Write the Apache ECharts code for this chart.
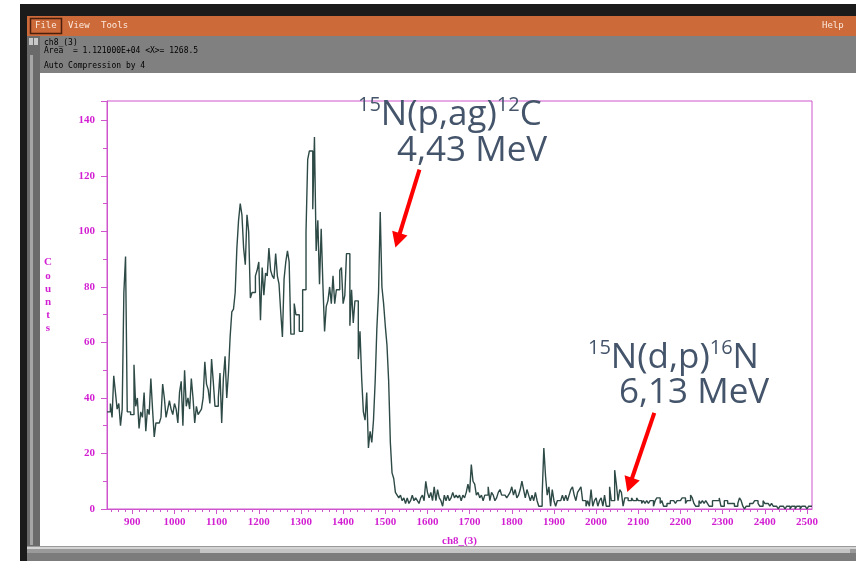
<!DOCTYPE html>
<html><head><meta charset="utf-8">
<script src="https://cdn.jsdelivr.net/npm/echarts@6/dist/echarts.min.js"></script>
<style>html,body{margin:0;padding:0;background:#fff;overflow:hidden}#c{width:856px;height:561px}</style>
</head><body><div id="c"></div>
<script>
// ---- data (compressed channels, 4 channels per bin, starting at channel 840) ----
const binStart = 840;
const binWidth = 4;
const countsA = [35,35,38,33,48,42,36,38,30,36,78,91,35,35,34,34,52,37,40,29,
  35,33,42,28,36,34,47,36,26,31,31,31,33,45,40,33,36,39,36,34,
  38,36,31,42,46,30,50,37,40,36,47,40,31,37,34,35,36,40,53,45,
  43,38,54,46,37,37,40,49,31,47,55,40,49,62,71,72,78,94,104,110,
  106,94,88,106,100,76,78,78,84,86,89,68,87,77,85,84,94,86,84,83,
  92,84,81,71,62,83,89,93,89,63,63,74,70,70,64,64,79,79,100,126,
  129,129,108,134,93,104,81,101,81,64,73,75,80,74,84,74,79,79,86,87,74,77];
const countsB = [92,92,66,79,67,75,75,54,64,47,35,32,42,22,28,24,32,46,65,78,
  107,80,74,66,59,46,24,13,11,6,
  5,4,5,3,4,2,4,2,3,5,3,4,3,2,4,5,3,10,6,4,
  6,3,8,3,7,4,3,1,5,3,5,3,4,6,4,5,4,5,3,5,
  4,6,9,6,16,10,9,5,6,4,5,3,5,5,8,3,6,5,3,4,
  6,7,5,5,5,4,5,6,8,5,7,4,5,7,10,7,4,7,5,3,
  5,3,6,3,1,1,5,22,12,5,8,1,7,3,1,3,3,3,5,3,
  5,3,5,7,8,5,3,6,7,8,3];
const countsC = [3,1,3,1,7,1,3,4,1,3,4,1,5,1,1,8,3,3,14,9,
  3,7,6,1,4,4,3,3,4,3,3,4,3,3,2,3,2,3,2,3,
  3,1,3,4,4,2,3,1,1,2,2,3,3,3,2,3,3,3,4,4,
  2,3,3,5,4,2,1,1,3,2,3,2,3,2,1,1,3,3,3,3,
  4,1,1,3,3,2,2,2,2,1,1,2,4,3,1,0,1,1,2,2,
  2,3,3,2,1,1,3,2,2,2,1,2,1,1,1,0,1,1,1,0,
  1,1,0,1,1,0,1,1,0,1,1,1,0,1,1];
const xTickLabels = [900,1000,1100,1200,1300,1400,1500,1600,1700,1800,1900,2000,2100,2200,2300,2400,2500];
const yTickLabels = [0,20,40,60,80,100,120,140];
const xMin = 840, xMax = 2512, yMax = 147;

const counts = countsA.concat(countsB, countsC);
const seriesData = counts.map((v, i) => [binStart + i * binWidth, v]);
seriesData.push([binStart + counts.length * binWidth, counts[counts.length - 1]]);

// minor x ticks: 6 per 100 channels
const xMinor = [];
for (let k = 0; k <= 100; k++) { const v = 850 + k * 100 / 6; if (v <= xMax) xMinor.push(v); }

const MAG = '#d21fd2', MAGL = '#cf55cf';
const SERIF = '"Liberation Serif","DejaVu Serif",serif';
const MONO = '"DejaVu Sans Mono","Liberation Mono",monospace';

const chart = echarts.init(document.getElementById('c'), null, {renderer: 'canvas'});

const chrome = [
  {type:'rect', shape:{x:20,y:4,width:836,height:12}, style:{fill:'#1b1b1b'}, z:0},
  {type:'rect', shape:{x:20,y:4,width:7,height:557}, style:{fill:'#1b1b1b'}, z:0},
  {type:'rect', shape:{x:27,y:16,width:829,height:20}, style:{fill:'#cd6a3a'}, z:0},
  {type:'rect', shape:{x:30.5,y:18.5,width:31,height:15}, style:{fill:null, stroke:'#4a1f0c', lineWidth:1.5}, z:1},
  {type:'text', x:35, y:26, style:{text:'File', font:'9px '+MONO, fill:'#fbe9dc', verticalAlign:'middle'}, z:1},
  {type:'text', x:68, y:26, style:{text:'View', font:'9px '+MONO, fill:'#fbe9dc', verticalAlign:'middle'}, z:1},
  {type:'text', x:101, y:26, style:{text:'Tools', font:'9px '+MONO, fill:'#fbe9dc', verticalAlign:'middle'}, z:1},
  {type:'text', x:822, y:26, style:{text:'Help', font:'9px '+MONO, fill:'#fbe9dc', verticalAlign:'middle'}, z:1},
  {type:'rect', shape:{x:40,y:36,width:816,height:37}, style:{fill:'#808080'}, z:0},
  {type:'rect', shape:{x:27,y:36,width:13,height:510}, style:{fill:'#6a6a6a'}, z:0},
  {type:'rect', shape:{x:29,y:38,width:4,height:7}, style:{fill:'#c8c8c8'}, z:1},
  {type:'rect', shape:{x:34,y:38,width:4,height:7}, style:{fill:'#c8c8c8'}, z:1},
  {type:'rect', shape:{x:30,y:55,width:3,height:490}, style:{fill:'#a5a5a5'}, z:1},
  {type:'text', x:44, y:43, style:{text:'ch8_(3)', font:'8px '+MONO, fill:'#000', verticalAlign:'middle'}, z:1},
  {type:'text', x:44, y:51, style:{text:'Area  = 1.121000E+04 <X>= 1268.5', font:'8px '+MONO, fill:'#000', verticalAlign:'middle'}, z:1},
  {type:'text', x:44, y:66, style:{text:'Auto Compression by 4', font:'8px '+MONO, fill:'#000', verticalAlign:'middle'}, z:1},
  {type:'rect', shape:{x:27,y:546,width:829,height:15}, style:{fill:'#9a9a9a'}, z:0},
  {type:'rect', shape:{x:27,y:547,width:829,height:2}, style:{fill:'#d4d4d4'}, z:1},
  {type:'rect', shape:{x:200,y:549,width:650,height:4}, style:{fill:'#c4c4c4'}, z:1},
  {type:'rect', shape:{x:27,y:553,width:829,height:8}, style:{fill:'#7c7c7c'}, z:1},
  {type:'text', x:48, y:256, style:{text:'C\no\nu\nn\nt\ns', font:'bold 11px '+SERIF, fill:MAG, align:'center', verticalAlign:'top', lineHeight:13.2}, z:1}
];

const option = {
  backgroundColor: '#ffffff',
  animation: false,
  grid: {left:107, right:44, top:101, bottom:52, show:true, borderColor:MAGL, borderWidth:1, backgroundColor:'#fff'},
  xAxis: [{
    type:'value', min:xMin, max:xMax,
    name:'ch8_(3)', nameLocation:'middle', nameGap:27,
    nameTextStyle:{color:MAG, fontFamily:SERIF, fontWeight:'bold', fontSize:11},
    axisLine:{show:true, lineStyle:{color:MAGL, width:1}},
    axisTick:{show:true, length:5, inside:false, customValues:xTickLabels, lineStyle:{color:MAGL}},
    axisLabel:{show:true, customValues:xTickLabels, margin:8, color:MAG, fontFamily:SERIF, fontWeight:'bold', fontSize:11,
      formatter: v => String(Math.round(v))},
    splitLine:{show:false}
  },{
    type:'value', min:xMin, max:xMax, position:'bottom',
    axisLine:{show:false},
    axisTick:{show:true, length:3, customValues:xMinor, lineStyle:{color:MAGL}},
    axisLabel:{show:false}, splitLine:{show:false}
  }],
  yAxis: {
    type:'value', min:0, max:yMax, interval:20,
    axisLine:{show:true, lineStyle:{color:MAGL, width:1}},
    axisTick:{show:true, length:6, lineStyle:{color:MAGL}},
    minorTick:{show:true, splitNumber:2, length:4, lineStyle:{color:MAGL}},
    axisLabel:{margin:12, color:MAG, fontFamily:SERIF, fontWeight:'bold', fontSize:11,
      formatter: v => yTickLabels.indexOf(v) >= 0 ? String(v) : ''},
    splitLine:{show:false}
  },
  series: [{
    type:'line', step:'end', data:seriesData, showSymbol:false, symbol:'none',
    lineStyle:{color:'#2e4a46', width:1.4}, xAxisIndex:0, yAxisIndex:0, z:3
  }],
  graphic: chrome
};
chart.setOption(option);

// annotations: arrows anchored in data space
const annotations = [
  {tail:[1581,122.3], tip:[1524,94.2]},
  {tail:[2138,34.6], tip:[2074,6.1]}
];
const extra = [];
annotations.forEach(a => {
  const t = chart.convertToPixel({xAxisIndex:0, yAxisIndex:0}, a.tail);
  const p = chart.convertToPixel({xAxisIndex:0, yAxisIndex:0}, a.tip);
  const dx = p[0]-t[0], dy = p[1]-t[1], L = Math.hypot(dx,dy);
  const ux = dx/L, uy = dy/L, hl = 15, hw = 8;
  const bx = p[0]-ux*hl, by = p[1]-uy*hl;
  extra.push({type:'line', shape:{x1:t[0], y1:t[1], x2:bx+ux*2, y2:by+uy*2}, style:{stroke:'#ff0000', lineWidth:4}, z:10});
  extra.push({type:'polygon', shape:{points:[[p[0],p[1]],[bx-uy*hw,by+ux*hw],[bx+uy*hw,by-ux*hw]]}, style:{fill:'#ff0000'}, z:10});
});
const FONT = '"Open Sans","Noto Sans",sans-serif';
const TXT = '#44546a';
const rich = {
  sup:{fontSize:20, fontFamily:FONT, fill:TXT, verticalAlign:'top', lineHeight:20},
  n:{fontSize:35, fontFamily:FONT, fill:TXT, lineHeight:40}
};
extra.push({type:'text', x:358, y:95, z:10, style:{text:'{sup|15}{n|N(p,ag)}{sup|12}{n|C}', rich:rich, fill:TXT, verticalAlign:'top'}});
extra.push({type:'text', x:397, y:134, z:10, style:{text:'4,43 MeV', font:'35px '+FONT, fill:TXT, verticalAlign:'top'}});
extra.push({type:'text', x:588, y:338, z:10, style:{text:'{sup|15}{n|N(d,p)}{sup|16}{n|N}', rich:rich, fill:TXT, verticalAlign:'top'}});
extra.push({type:'text', x:619, y:376, z:10, style:{text:'6,13 MeV', font:'35px '+FONT, fill:TXT, verticalAlign:'top'}});
chart.setOption({graphic: chrome.concat(extra)});
</script>
</body></html>
